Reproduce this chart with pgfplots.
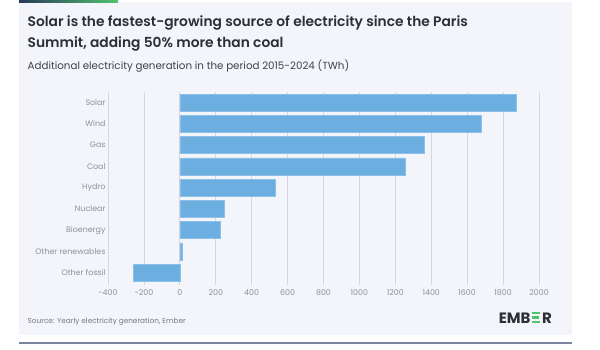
\documentclass[border=0pt]{standalone}
\usepackage{pgfplots}
\pgfplotsset{compat=1.18}
\usepackage{fontspec}
\setmainfont{Poppins}
\newfontfamily\titlefont{Poppins SemiBold}
\definecolor{panelbg}{HTML}{F4F5FA}
\definecolor{titlec}{HTML}{2B2F36}
\definecolor{subc}{HTML}{3E424B}
\definecolor{tickc}{HTML}{8B90A0}
\definecolor{srcc}{HTML}{737886}
\definecolor{gridc}{HTML}{D5D7DE}
\definecolor{barc}{HTML}{6DAEE0}
\definecolor{baredge}{HTML}{8DC0E8}
\definecolor{navy}{HTML}{2A3A5A}
\definecolor{emgreen}{HTML}{4FC46E}
\definecolor{linec}{HTML}{7C85A0}
\newcommand\emE{\hspace{1.2pt}\textcolor{emgreen}{\rlap{\rule[0pt]{8.6pt}{2.3pt}}\rlap{\rule[4.4pt]{7.6pt}{2.3pt}}\rule[8.8pt]{8.6pt}{2.3pt}}\hspace{1.6pt}}
\begin{document}
\begin{tikzpicture}
\path[use as bounding box, fill=white] (0pt,0pt) rectangle (600pt,-350pt);
\fill[panelbg] (19pt,-2pt) rectangle (572pt,-335pt);
\shade[left color=navy, right color=emgreen] (19pt,0pt) rectangle (118pt,-2.5pt);
\draw[linec, line width=1.2pt] (19pt,-343pt) -- (572pt,-343pt);
\node[anchor=base west, inner sep=0pt, text=titlec, font=\fontsize{13.8}{16}\selectfont\titlefont] at (27.5pt,-27pt) {Solar is the fastest-growing source of electricity since the Paris};
\node[anchor=base west, inner sep=0pt, text=titlec, font=\fontsize{13.8}{16}\selectfont\titlefont] at (27.5pt,-48pt) {Summit, adding 50\% more than coal};
\node[anchor=base west, inner sep=0pt, text=subc, font=\fontsize{10.3}{12}\selectfont] at (27.5pt,-70pt) {Additional electricity generation in the period 2015-2024 (TWh)};
\node[anchor=base west, inner sep=0pt, text=srcc, font=\fontsize{7.3}{9}\selectfont] at (27.5pt,-323.5pt) {Source: Yearly electricity generation, Ember};
\node[anchor=base east, inner sep=0pt, text=titlec, font=\fontsize{15}{17}\selectfont\bfseries] at (552pt,-323pt) {EMB\emE R};
\begin{axis}[
  at={(108pt,-285pt)}, anchor=south west,
  scale only axis, width=431pt, height=193pt,
  xmin=-400, xmax=2000, ymin=-0.5, ymax=8.58,
  y dir=reverse,
  xbar, bar width=0.8,
  axis line style={draw=none},
  major tick length=0pt,
  xmajorgrids, grid style={gridc, line width=0.8pt},
  xtick={-400,-200,0,200,400,600,800,1000,1200,1400,1600,1800,2000},
  ytick={0,1,2,3,4,5,6,7,8},
  yticklabels={Solar,Wind,Gas,Coal,Hydro,Nuclear,Bioenergy,Other renewables,Other fossil},
  tick label style={text=tickc, font=\fontsize{7.9}{9}\selectfont},
  /pgf/number format/assume math mode=true,
  /pgf/number format/1000 sep={},
  xticklabel style={yshift=-1pt},
  yticklabel style={xshift=1pt},
]
\addplot[fill=barc, draw=baredge, line width=0.6pt] coordinates {
(1873,0) (1677,1) (1359,2) (1253,3) (533,4) (245,5) (225,6) (15,7) (-258,8)
};
\end{axis}
\end{tikzpicture}
\end{document}
